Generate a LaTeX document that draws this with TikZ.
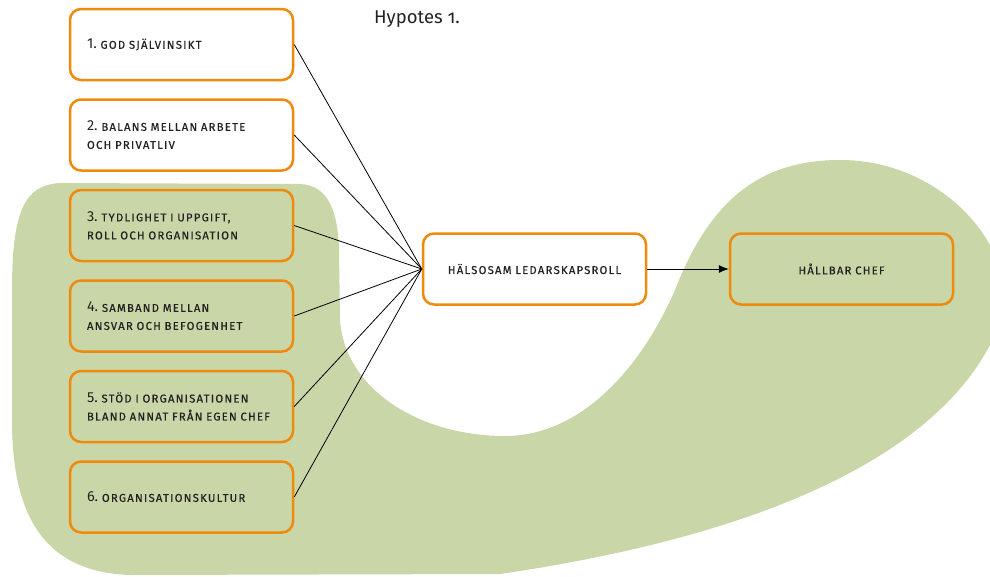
\documentclass[tikz,border=0pt]{standalone}
\usepackage{fontspec}
\setmainfont{Fira Sans}
\newfontfamily\capsfont[LetterSpace=11,FakeBold=0.6]{Fira Sans}
\usetikzlibrary{positioning,arrows.meta}
\definecolor{blobgreen}{HTML}{C9D6A7}
\definecolor{boxorange}{HTML}{EF8A0C}
\definecolor{txt}{HTML}{222222}
\newcommand{\itemno}[1]{{\rmfamily\fontsize{14.5}{18}\selectfont #1.}\ }

\begin{document}
\begin{tikzpicture}[x=1pt,y=-1pt,line width=0.8pt,>={Latex[length=10pt,width=8pt]},
  factor/.style={draw=boxorange,line width=2.5pt,rounded corners=11pt,
    minimum width=223pt,minimum height=71pt,text width=189pt,inner xsep=17pt,
    align=left,text=txt,font=\capsfont\fontsize{11.3}{18}\selectfont},
  goal/.style={factor,align=center}]
\useasboundingbox (0,0) rectangle (990,576);

\fill[blobgreen] (60,183) -- (300,184) .. controls (330,185) and (338,215) .. (339,250)
  -- (340,320) .. controls (345,390) and (420,436) .. (505,436)
  .. controls (580,436) and (640,370) .. (675,290)
  .. controls (710,200) and (760,160) .. (840,160)
  .. controls (910,160) and (965,200) .. (990,245)
  -- (990,345) .. controls (940,440) and (800,530) .. (500,574)
  -- (130,575) .. controls (40,572) and (12,510) .. (12,420)
  -- (12,290) .. controls (12,210) and (25,185) .. (60,183) -- cycle;

\node[font=\fontsize{18.5}{20}\selectfont,text=txt](title) at (417,19) {Hypotes {\addfontfeatures{Numbers=OldStyle}1}.};

\node[factor](f1) at (181.5,44.5) {\itemno{1}GOD SJÄLVINSIKT};
\node[factor](f2)[below=17pt of f1] {\itemno{2}BALANS MELLAN ARBETE\\OCH PRIVATLIV};
\node[factor](f3)[below=17pt of f2] {\itemno{3}TYDLIGHET I UPPGIFT,\\ROLL OCH ORGANISATION};
\node[factor](f4)[below=17pt of f3] {\itemno{4}SAMBAND MELLAN\\ANSVAR OCH BEFOGENHET};
\node[factor](f5)[below=17pt of f4] {\itemno{5}STÖD I ORGANISATIONEN\\BLAND ANNAT FRÅN EGEN CHEF};
\node[factor](f6)[below=17pt of f5] {\itemno{6}ORGANISATIONSKULTUR};

\node[goal](hl) at (534.5,269) {HÄLSOSAM LEDARSKAPSROLL};
\node[goal](hc)[right=81.5pt of hl] {HÅLLBAR CHEF};

\foreach \i in {1,...,6}
  \draw (f\i.east) -- (hl.west);
\draw[->] (hl) -- (hc);
\end{tikzpicture}
\end{document}
